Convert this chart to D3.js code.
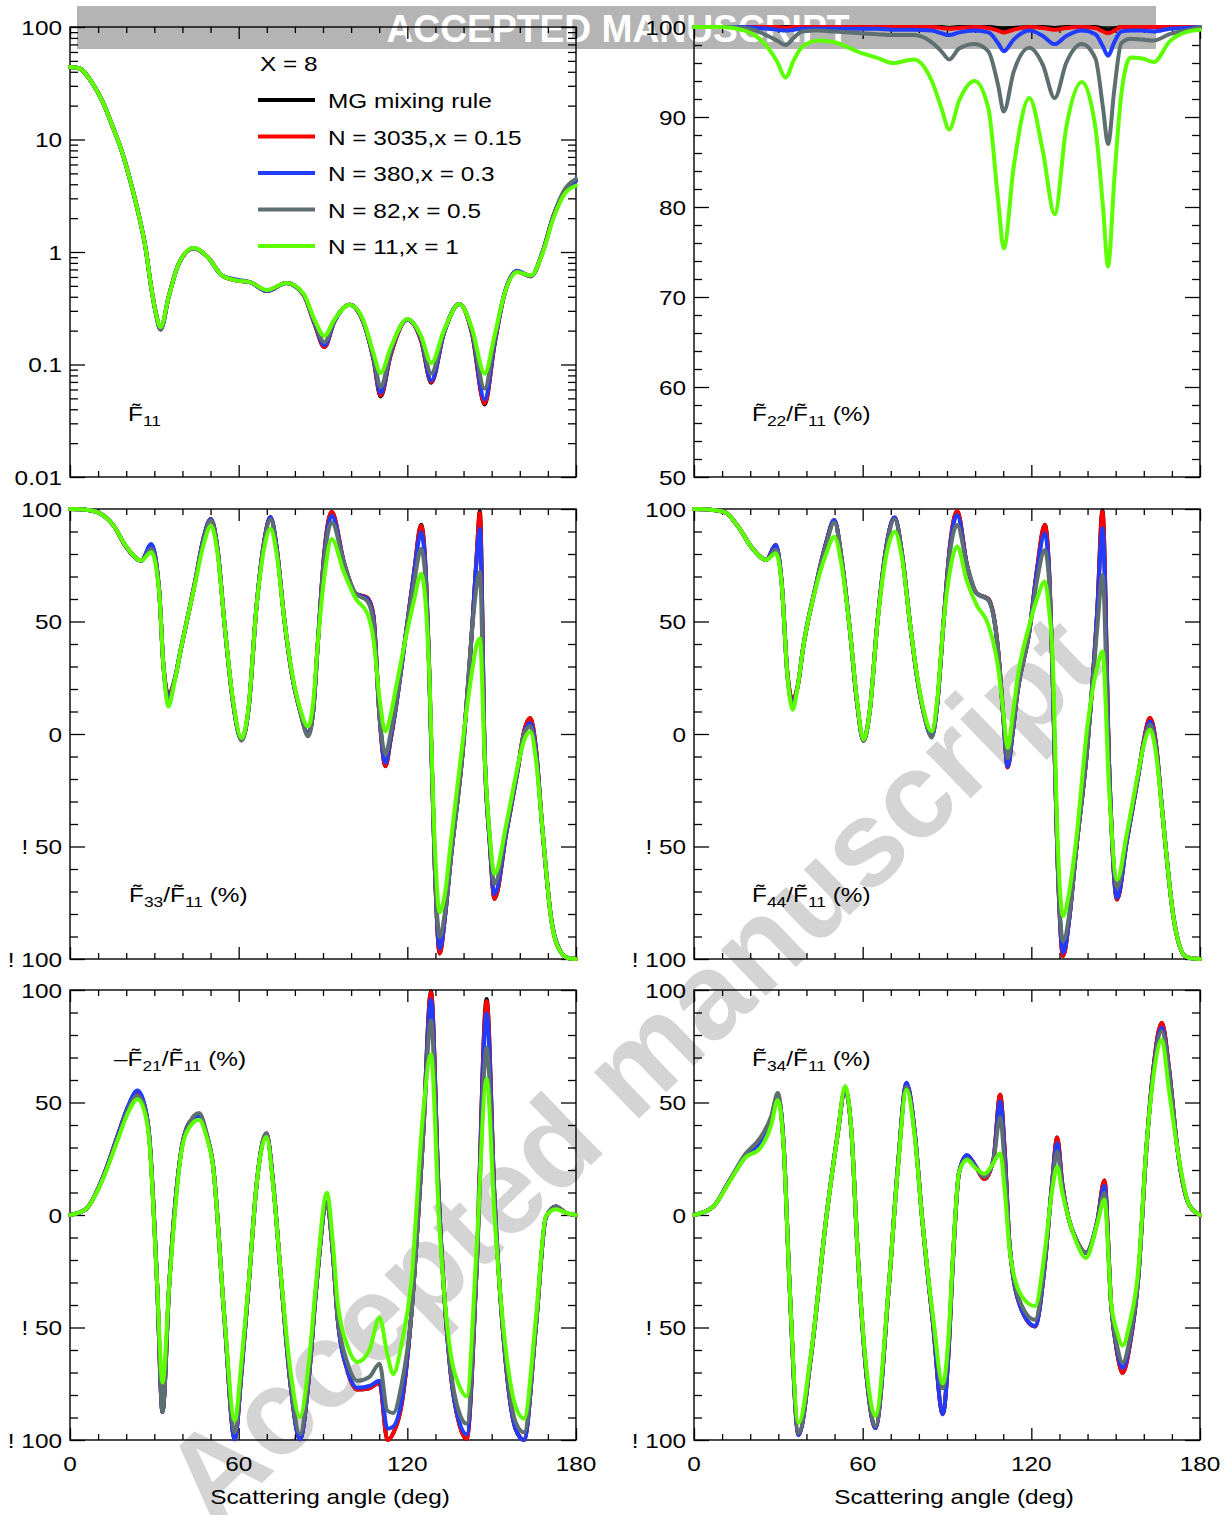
<!DOCTYPE html>
<html><head><meta charset="utf-8">
<script src="https://cdn.jsdelivr.net/npm/d3@7"></script>
<style>body{margin:0;background:#fff}svg{display:block}text{font-family:"Liberation Sans",Arial,sans-serif}</style>
</head><body><svg id="c" width="1231" height="1515"></svg>
<script>
// ---------------- DATA ----------------
const SERIES_NAMES = ["MG mixing rule","N = 3035,x = 0.15","N = 380,x = 0.3","N = 82,x = 0.5","N = 11,x = 1"];
const SERIES_COLORS = ["#000000","#ff0000","#1f3cff","#5e6f72","#5dff00"];
const X_MAJOR = [0,60,120,180];
const X_MINOR = [10,20,30,40,50,70,80,90,100,110,130,140,150,160,170];
const Y_LIN_TICKS = [100,50,0,-50,-100];
const Y_LIN_LABELS = ["100","50","0","! 50","! 100"];
const Y_LOG_TICKS = [100,10,1,0.1,0.01];
const Y_LOG_LABELS = ["100","10","1","0.1","0.01"];
const Y_F22_TICKS = [100,90,80,70,60,50];
const Y_F22_LABELS = ["100","90","80","70","60","50"];

// F11 (log)
const ANG_F11 = [0,3.2,8,11.6,15.2,18.7,21.7,24.6,27,28.7,30.5,32.2,35.1,38.7,44,49,54,59,64,70,77,83,87,90.5,94,99.5,104,108,110.5,114,120,125,128.5,133,138.5,143,147.5,151,154.5,159,164,168,172,176,180];
const F11_MG    = [44,43,31.6,21.7,13,7.5,4.07,2.06,1.04,0.52,0.29,0.205,0.40,0.79,1.08,0.9,0.62,0.56,0.54,0.45,0.53,0.42,0.23,0.143,0.24,0.34,0.25,0.11,0.052,0.12,0.25,0.16,0.069,0.19,0.345,0.19,0.044,0.15,0.42,0.67,0.61,0.98,2.1,3.5,4.3];
const F11_N3035 = [44,43,31.6,21.7,13,7.5,4.07,2.06,1.04,0.52,0.29,0.205,0.40,0.79,1.08,0.9,0.62,0.56,0.54,0.45,0.53,0.42,0.23,0.143,0.24,0.34,0.25,0.11,0.053,0.12,0.25,0.16,0.070,0.19,0.345,0.19,0.045,0.15,0.42,0.67,0.61,0.98,2.1,3.5,4.3];
const F11_N380  = [44,43,31.6,21.7,13,7.5,4.07,2.06,1.04,0.52,0.29,0.205,0.40,0.79,1.08,0.9,0.62,0.57,0.54,0.45,0.53,0.42,0.235,0.148,0.24,0.34,0.25,0.113,0.056,0.125,0.25,0.165,0.072,0.19,0.345,0.195,0.049,0.155,0.42,0.68,0.61,0.98,2.1,3.5,4.3];
const F11_N82   = [44,43,31.6,21.7,13,7.5,4.07,2.06,1.04,0.52,0.29,0.205,0.40,0.79,1.08,0.9,0.62,0.56,0.54,0.455,0.53,0.42,0.24,0.158,0.245,0.34,0.25,0.118,0.063,0.13,0.252,0.17,0.083,0.195,0.345,0.2,0.061,0.165,0.42,0.67,0.61,0.98,2.1,3.6,4.45];
const F11_N11   = [44,43,31.6,21.7,13,7.5,4.07,2.06,1.04,0.52,0.29,0.215,0.40,0.79,1.09,0.9,0.62,0.56,0.54,0.46,0.53,0.43,0.25,0.18,0.25,0.34,0.26,0.125,0.084,0.14,0.254,0.177,0.103,0.2,0.345,0.21,0.083,0.18,0.42,0.66,0.62,0.96,2.0,3.3,3.9];

// F22/F11
const ANG_F22 = [0,10,18,22,26.3,29.5,32.6,35.5,38.5,44.4,50,59.6,65,70.7,78.3,84.6,88,90.8,94.3,99.8,104.7,108.2,110.2,113.7,119.3,124.1,128.3,132.4,138,142.8,145.5,147.3,149.5,152,155.3,159.5,163.6,169.2,174.7,180];
const F22_MG    = [100,100,100,100,100,100,100,100,100,100,100,100,100,100,100,100,100,99.9,100,100,100,99.9,99.8,99.9,100,100,99.9,100,100,100,99.8,99.7,99.8,100,100,100,100,100,100,100];
const F22_N3035 = [100,100,100,100,100,100,99.9,100,100,100,100,100,100,100,100,100,99.9,99.8,99.9,100,99.9,99.6,99.4,99.7,100,99.9,99.7,99.9,100,99.9,99.5,99.3,99.6,100,100,100,100,100,100,100];
const F22_N380  = [100,100,100,99.9,99.8,99.7,99.6,99.7,99.8,99.8,99.8,99.8,99.8,99.7,99.7,99.6,99.3,99.1,99.4,99.6,99.4,98.2,97.3,98.6,99.6,99.0,98.1,99.0,99.6,99.2,97.8,96.8,98.3,99.5,99.6,99.6,99.5,99.8,99.9,100];
const F22_N82   = [100,100,99.9,99.6,99.0,98.5,98.0,98.8,99.5,99.6,99.5,99.3,99.2,99.1,99.1,98.3,97.3,96.4,97.6,98.1,97.3,93.5,90.6,95,97.7,95.8,92.1,96,98.1,96.5,91,87.0,93,98.2,98.7,98.6,98.5,99.2,99.6,100];
const F22_N11   = [100,100,99.6,99.0,97.7,96.2,94.4,96.3,97.8,98.5,98.3,97.1,96.6,96.0,96.4,94.0,91.0,88.6,91.8,94.0,91.0,80.7,75.4,84.4,92.1,86.2,79.2,88.8,93.9,88.8,80,73.4,83,92.5,96.6,96.5,96.1,98.4,99.4,99.7];

// F33/F11
const ANG_F33 = [0,5,9.9,15.5,19.8,25.4,28.9,31.7,33.2,35,37,39.5,44.4,47.5,50.1,52.5,55,58,61,63.5,66.3,69,71.3,73.5,76.2,79,81.8,84.7,86.5,88.2,90.5,93.1,97.4,101.6,105.8,107.9,110.1,112.2,114,115.7,119.9,122.5,124.9,126.5,127.7,129.8,131.5,133.5,135.5,139.7,143.2,144.7,145.8,147.5,149.3,151,155.2,159.4,161.5,163.7,165.8,167.9,171.4,175,177.5,180];
const F33_MG    = [100,99.8,98.5,92.6,83.5,77,84,64,31,17.4,23,38.1,67,87,95.6,82,48.4,14,-2.5,11,56,85,96.3,83,51.3,26,10.5,0,10,41,81,98.8,76.4,62.4,60.5,53,8,-14.3,-3,10,48.4,73,93,73,32,-60,-97.6,-80,-55,-7.7,50,80,99,-8,-48,-73.3,-44,-15,1,7.1,-7,-40,-84,-97.6,-99.7,-100];
const F33_N3035 = [100,99.8,98.5,92.6,83.5,77,84,64,31,17.4,23,38.1,67,87,95.6,82,48.4,14,-2.5,11,56,85,96.3,83,51.3,26,10.5,0,10,41,81,98.8,76.4,62.4,60.5,53,8,-14.3,-3,10,48.4,73,92.6,73,32,-60,-97.6,-80,-55,-7.7,50,80,98.2,-8,-48,-73.3,-44,-15,1,7.1,-7,-40,-84,-97.6,-99.7,-100];
const F33_N380  = [100,99.8,98.5,92.6,83.5,77,84.5,64,31,16,23,38.1,67,87,95.6,82,48.4,14,-2.5,11,56,85,96.3,83,51.3,26,10.5,0,10,41,80,97,76.4,62.4,60,52,8,-12.8,-2,10,48.4,72,89.7,72,32,-60,-95.4,-80,-55,-7.7,50,78,91.2,-8,-48,-71.1,-44,-15,0,4.9,-8,-40,-84,-97.6,-99.7,-100];
const F33_N82   = [100,99.8,98.5,92.6,83.5,77,82.3,64,31,14.5,23,38.1,67,86,95,82,48.4,14,-3,11,56,84,95.5,82,51.3,26,10.5,-1,10,41,78,94.1,76.4,62.4,59,50,8.6,-9.1,0,11.5,48.4,68,82.3,68,30,-60,-90.3,-78,-54.9,-7.7,48.4,66,72,-8,-45,-66.7,-42,-14,0,3.4,-10,-40,-84,-97.6,-99.7,-100];
const F33_N11   = [100,99.8,98.5,92.6,83.8,77.1,80.8,63.1,30.7,12.2,22,38.1,66.1,84,92.6,80,48.4,15,-1.8,12,55.8,82,91.2,80,51.3,27,11.5,3.4,14,41,70,86.7,72,60.2,53.5,42.5,16,1.2,8,18.9,45.4,60,71.2,58,30,-50,-79.2,-70,-47.5,-3.2,29.2,40,42.5,-10.3,-45,-62.2,-40.1,-13.6,-3,1,-12,-40.1,-84.4,-97.6,-99.7,-100];

// F44/F11
const ANG_F44 = [0,5,11.1,15.3,20.8,25.7,29.1,31.2,33.3,35.1,37,38.8,43,47,49.9,52.5,55.5,58,60.3,62.5,65.2,68.5,71.4,74,76.9,79.5,81.8,84.6,86.5,88.7,91,93.6,97.1,100.5,104.7,108.2,110,111.6,113.3,115.1,119.3,122,124.8,126.3,127.6,129.3,131.3,133.5,135.9,140,143.5,145.3,147.7,150.5,153.9,158.1,160,162.2,164.5,166.4,170.6,174.7,177.5,180];
const F44_MG    = [100,99.8,98.5,92.9,82.5,77.4,84,67,26,15,22,38.2,64,85,95.1,78,45.6,14,-3,10,49,84,96.2,80,48.5,24,9,-1,13,48.5,83,99.1,75.1,62.6,60,37,8,-14.8,0,18.9,45.6,73,93,73,25,-55,-98.7,-82,-52,-4.7,56,99.5,-15,-73.5,-48,-18,-3,7.1,-6,-32,-81.7,-98.7,-99.8,-100];
const F44_N3035 = [100,99.8,98.5,92.9,82.5,77.4,84,67,26,15,22,38.2,64,85,95.1,78,45.6,14,-3,10,49,84,96.2,80,48.5,24,9,-1,13,48.5,83,99.1,75.1,62.6,60,37,8,-14.8,0,18.9,45.6,73,92.9,73,25,-55,-98.7,-82,-52,-4.7,56,98.8,-15,-73.5,-48,-18,-3,7.1,-6,-32,-81.7,-98.7,-99.8,-100];
const F44_N380  = [100,99.8,98.5,92.9,82.5,77.4,84,67,25,14,22,38.2,64,85,95.1,78,45.6,14,-3,10,49,84,96.2,80,48.5,24,9,-1,13,48.5,82,97.3,75.1,62.6,59.6,36.7,8,-14.3,0,18.9,45.6,72,89.2,72,25,-55,-97.2,-82,-52,-4.7,55,91.4,-15,-72.8,-48,-18,-4,5.6,-7,-32,-81.7,-98.7,-99.8,-100];
const F44_N82   = [100,99.8,98.5,92.9,82.5,77.4,82,67,25,13,22,38.2,64,84,94,78,45.6,14,-3,10,49,83,95.5,80,48.5,24,9,-1.5,13,48.5,80,92.9,75.1,62.6,59.6,36.7,10,-10.7,2,18.9,45.6,68,81.8,68,25,-55,-92,-80,-52,-4.7,48,70.7,-20,-68.3,-46,-17,-4,4.1,-8,-32,-81.7,-98.7,-99.8,-100];
const F44_N11   = [100,99.8,98.5,92.9,82.5,77.4,80.3,66.3,24.9,10.8,22,38.2,63.3,80,87.7,75,45.6,15,-2.5,10,48.5,80,89.9,78,48.5,25,10,1.2,15,48.5,72,83.3,67.8,57.4,48.5,29.3,10,-6.2,8,24.9,48.5,60,67.8,55,33.7,-45,-80.9,-70,-47.6,4.1,30,36.7,-25.4,-64.8,-44.7,-16.6,-5,1.9,-10,-32.8,-81.7,-98.7,-99.8,-100];

// -F21/F11
const ANG_F21 = [0,5.6,11.3,16.9,20.5,24,26.5,28.2,31,32.9,35.3,39.5,42.5,45.9,48.5,50.8,55,58.6,61,63.5,66.5,69.8,72.5,74.8,78.5,81.8,85,87.5,91.4,93.5,95.2,98.8,102.3,106.5,110.1,112.9,115,118,121.3,125.6,128.4,131.2,135.4,138.5,141.1,144.6,148.2,151,155.2,158.5,161.5,165.7,169.3,172.8,176.3,180];
const F21_MG    = [0,2.6,15.5,35,47.5,54.5,48.5,35,-31,-87.5,-31,28,41,44,36,23,-47,-99.7,-70,-32,15,36.2,11,-24,-76,-99.7,-72,-34,5.6,-17,-46,-69.5,-77.6,-77,-74.5,-100,-97,-84,-46,35,99.5,8,-70,-93,-99.4,-25,96,8,-68,-95,-100,-50,-1,3.8,1,0];
const F21_N3035 = [0,2.6,15.5,35,47.5,54.5,48.5,35,-31,-87.5,-31,28,41,44,36,23,-47,-99.7,-70,-32,15,36.2,11,-24,-76,-99.7,-72,-34,5.6,-17,-46,-69.5,-77.6,-77,-74.5,-100,-97,-84,-46,35,99,8,-70,-93,-99.4,-25,95,8,-68,-95,-100,-50,-1,3.8,1,0];
const F21_N380  = [0,2.6,15.5,35,48,55.3,49,35,-31,-87.5,-31,28,41,44,36,23,-47,-99.7,-70,-32,15,36.2,11,-24,-76,-99.7,-72,-34,5.6,-17,-46,-69.2,-76.8,-76,-73.7,-95,-94,-82,-46,35,95.7,8,-70,-92,-97.4,-25,89.6,8,-68,-95,-100,-50,-1,3.8,1,0];
const F21_N82   = [0,2.6,15,34,46.5,53,47.5,34,-31,-87.5,-31,28,41,45.3,37,23,-47,-96.6,-68,-32,15,36.2,11,-24,-74,-97.4,-70,-33,5.6,-16,-45,-66,-73.7,-72,-66.1,-87,-88,-75,-46,35,86.6,5,-68,-88,-92.8,-25,74.4,5,-66,-92,-96.6,-50,-1,3.8,1,0];
const F21_N11   = [0,2.6,14.8,33.1,45,51.5,46,33.1,-31,-74.5,-31,27,39,42.3,35,22.4,-46.3,-91.3,-65,-31,15,34.7,10,-23.4,-70,-89.8,-65,-31,9.9,-12,-38.6,-58.5,-65.3,-60,-45.5,-62,-70.7,-57,-31,45.3,71.3,-0.5,-61.5,-76,-80.6,-15.7,60.6,-0.5,-61.5,-85,-90.5,-46.3,-0.5,2.6,1,0];

// F34/F11
const ANG_F34 = [0,6.9,12.5,18,23.6,27.5,29.8,31.9,34,37.2,41.6,47.1,51,53.8,56,58.2,61.5,64.5,69.3,72.5,75.6,78.5,81.1,85,88.5,90.5,92.2,94.3,97.1,100,103.3,106.5,108.9,110.6,112.3,116.5,121.3,124.8,127.3,129.2,131,133.1,136,139.4,143.5,146,148.4,150.5,152.5,155,158.1,160.9,163.5,166.4,169,171.9,176.1,180];
const F34_MG    = [0,3.8,15,25.5,32,43,53,31,-31.3,-97.7,-63,-0.8,35,56,37,-16,-73,-94.7,-32,21,58.5,37,-0.8,-48,-88.5,-62,-18,19,26.5,22,16,24.5,53.4,27,-14,-42,-49.5,-22,13,34.4,14,-0.8,-11,-16.8,-2.5,15.3,-40,-61,-70.2,-58,-27,29,66,85.5,65,30,4.6,0];
const F34_N3035 = [0,3.8,15,25.5,32,43,53,31,-31.3,-97.7,-63,-0.8,35,56,37,-16,-73,-94.7,-32,21,58.5,37,-0.8,-48,-88.5,-62,-18,19,26.5,22,16,24.5,53.4,27,-14,-42,-49.5,-22,13,34.4,14,-0.8,-11,-16.8,-2.5,15.3,-40,-61,-70.2,-58,-27,29,66,85.5,65,30,4.6,0];
const F34_N380  = [0,3.8,15,25.5,32,43,53,31,-31.3,-97.7,-63,-0.8,35,56,37,-16,-73,-94.7,-32,21,58.8,37,-0.8,-48,-88.5,-62,-18,19,26.7,22,17,24.5,50.4,25,-14,-42,-49.3,-22,13,32,13,-0.8,-11,-16.8,-2.5,13,-40,-60,-67.9,-57,-27,29,65,83.2,64,30,4.6,0];
const F34_N82   = [0,3.8,15,26.7,34.4,44,54.2,31,-31.3,-96.9,-63,-0.8,35,56,37,-16,-72,-93.9,-32,21,57,36,-0.8,-46,-77.1,-57,-17,19,25,21.5,17,24,43.5,20,-14,-40,-46.6,-20,12,28.2,12,-0.8,-11,-16.8,-3,9.9,-40,-58,-65.6,-55,-26,29,64,81.7,63,30,4.6,0];
const F34_N11   = [0,3.8,14.5,25.2,29.8,40,51.1,29.8,-31.3,-92.4,-61.8,-0.8,35,57.3,37,-16,-70,-89.3,-31.3,20,55.7,35,-0.8,-45,-74.8,-55,-16,19.1,24.4,21,18.3,23,27.5,10,-16,-35.9,-40.5,-16,10,21.4,10,-0.8,-12,-19.1,-3.8,6.9,-38.9,-52,-58,-48,-23.7,29.8,62,77.9,55,29.8,4.6,0];

// ---------------- LAYOUT ----------------
const COLS = [[70,576],[694,1200]];
const ROWS = [[27,477],[509,959],[990,1440]];
const SX = 1.16; // horizontal stretch of original typography

const panels = [
  {col:0,row:0,type:"log",ang:ANG_F11,ser:[F11_MG,F11_N3035,F11_N380,F11_N82,F11_N11],
   label:[["F\u0303"],["11",1]], lx:128, ly:421, legend:true},
  {col:1,row:0,type:"f22",ang:ANG_F22,ser:[F22_MG,F22_N3035,F22_N380,F22_N82,F22_N11],
   label:[["F\u0303"],["22",1],["/F\u0303"],["11",1],[" (%)"]], lx:752, ly:421},
  {col:0,row:1,type:"lin",ang:ANG_F33,ser:[F33_MG,F33_N3035,F33_N380,F33_N82,F33_N11],
   label:[["F\u0303"],["33",1],["/F\u0303"],["11",1],[" (%)"]], lx:129, ly:902},
  {col:1,row:1,type:"lin",ang:ANG_F44,ser:[F44_MG,F44_N3035,F44_N380,F44_N82,F44_N11],
   label:[["F\u0303"],["44",1],["/F\u0303"],["11",1],[" (%)"]], lx:752, ly:902},
  {col:0,row:2,type:"lin",ang:ANG_F21,ser:[F21_MG,F21_N3035,F21_N380,F21_N82,F21_N11],
   label:[["\u2013F\u0303"],["21",1],["/F\u0303"],["11",1],[" (%)"]], lx:114, ly:1066},
  {col:1,row:2,type:"lin",ang:ANG_F34,ser:[F34_MG,F34_N3035,F34_N380,F34_N82,F34_N11],
   label:[["F\u0303"],["34",1],["/F\u0303"],["11",1],[" (%)"]], lx:752, ly:1066}
];

const svg = d3.select("#c");

// banner
svg.append("rect").attr("x",77).attr("y",6).attr("width",1079).attr("height",43).attr("fill","#b4b4b4");
svg.append("text").attr("x",618).attr("y",42).attr("text-anchor","middle")
  .attr("font-size",39).attr("font-weight","bold").attr("fill","#ffffff")
  .attr("textLength",463).attr("lengthAdjust","spacingAndGlyphs").text("ACCEPTED MANUSCRIPT");

// watermark
svg.append("text").attr("transform","translate(630,1068) rotate(-44)")
  .attr("text-anchor","middle").attr("dy","0.35em")
  .attr("font-size",122).attr("font-weight","bold").attr("fill","#d4d4d4")
  .text("Accepted manuscript");

function stext(g,x,y,anchor,size){
  return g.append("text").attr("transform",`translate(${x},${y}) scale(${SX},1)`)
    .attr("text-anchor",anchor).attr("font-size",size).attr("fill","#000");
}

panels.forEach(p=>{
  const [x0,x1] = COLS[p.col], [y0,y1] = ROWS[p.row];
  const g = svg.append("g");
  const x = d3.scaleLinear().domain([0,180]).range([x0,x1]);
  let y, yMaj, yMin, yLab;
  if(p.type==="log"){
    y = d3.scaleLog().domain([0.01,100]).range([y1,y0]);
    yMaj = Y_LOG_TICKS; yLab = Y_LOG_LABELS;
    yMin = [];
    [0.01,0.1,1,10].forEach(d=>{ for(let k=2;k<=9;k++) yMin.push(d*k); });
  } else if(p.type==="f22"){
    y = d3.scaleLinear().domain([50,100]).range([y1,y0]);
    yMaj = Y_F22_TICKS; yLab = Y_F22_LABELS;
    yMin = d3.range(52,100,2).filter(v=>v%10!==0);
  } else {
    y = d3.scaleLinear().domain([-100,100]).range([y1,y0]);
    yMaj = Y_LIN_TICKS; yLab = Y_LIN_LABELS;
    yMin = d3.range(-90,100,10).filter(v=>v%50!==0);
  }

  // axes with inward ticks
  const axes = [
    [d3.axisBottom(x).tickValues(X_MAJOR).tickSize(-12), `translate(0,${y1})`],
    [d3.axisBottom(x).tickValues(X_MINOR).tickSize(-6), `translate(0,${y1})`],
    [d3.axisTop(x).tickValues(X_MAJOR).tickSize(-12), `translate(0,${y0})`],
    [d3.axisTop(x).tickValues(X_MINOR).tickSize(-6), `translate(0,${y0})`],
    [d3.axisLeft(y).tickValues(yMaj).tickSize(-15), `translate(${x0},0)`],
    [d3.axisLeft(y).tickValues(yMin).tickSize(-8), `translate(${x0},0)`],
    [d3.axisRight(y).tickValues(yMaj).tickSize(-15), `translate(${x1},0)`],
    [d3.axisRight(y).tickValues(yMin).tickSize(-8), `translate(${x1},0)`]
  ];
  axes.forEach(([ax,tr])=>{
    const a = g.append("g").attr("transform",tr).call(ax.tickFormat(""));
    a.select(".domain").remove();
    a.selectAll("line").attr("stroke","#000").attr("stroke-width",1.3);
  });
  g.append("rect").attr("x",x0).attr("y",y0).attr("width",x1-x0).attr("height",y1-y0)
    .attr("fill","none").attr("stroke","#000").attr("stroke-width",1.4);

  // y tick labels
  yMaj.forEach((v,i)=>{
    stext(g, x0-8, y(v)+7.5, "end", 21).text(yLab[i]);
  });
  // x tick labels & title on bottom row
  if(p.row===2){
    X_MAJOR.forEach(v=> stext(g, x(v), 1471, "middle", 21).text(String(v)));
    stext(g, (x0+x1)/2+7, 1504, "middle", 21).text("Scattering angle (deg)");
  }

  // curves
  const line = d3.line().curve(d3.curveMonotoneX);
  p.ser.forEach((vals,si)=>{
    const pts = p.ang.map((a,i)=>[x(a), y(vals[i])]);
    g.append("path").attr("d",line(pts)).attr("fill","none")
      .attr("stroke",SERIES_COLORS[si]).attr("stroke-width",4)
      .attr("stroke-linejoin","round").attr("stroke-linecap","round");
  });

  // panel label
  const t = stext(g, p.lx, p.ly, "start", 21);
  p.label.forEach(([s,sub])=>{
    const ts = t.append("tspan").text(s);
    if(sub){ ts.attr("font-size",15).attr("dy",5); }
    else { ts.attr("dy", t.node().childNodes.length>1 ? -5 : 0); }
  });

  // legend
  if(p.legend){
    stext(g, 260, 71, "start", 21).text("X = 8");
    SERIES_NAMES.forEach((nm,i)=>{
      const ly = 100 + i*36.5;
      g.append("line").attr("x1",258).attr("x2",315).attr("y1",ly).attr("y2",ly)
        .attr("stroke",SERIES_COLORS[i]).attr("stroke-width",4);
      stext(g, 328, ly+8, "start", 21).text(nm);
    });
  }
});
</script></body></html>
